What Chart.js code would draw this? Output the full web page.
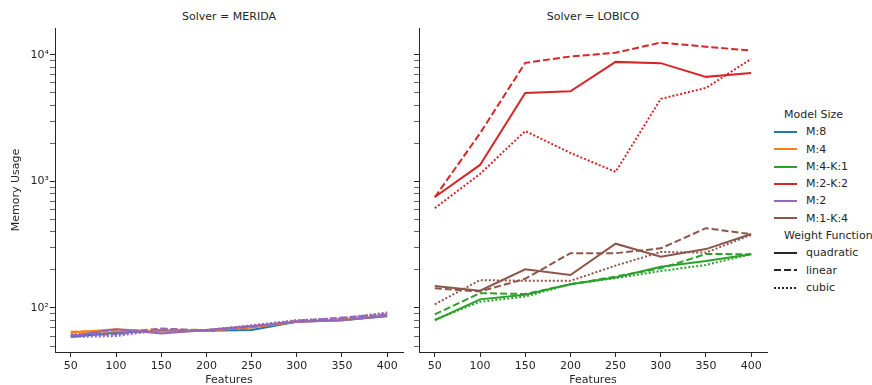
<!DOCTYPE html>
<html lang="en">
<head>
  <meta charset="UTF-8" />
  <title>Memory Usage by Solver</title>
  <script src="https://cdn.jsdelivr.net/npm/chart.js"></script>
  <style>
    body {
      margin: 0;
      background: #fff;
      font-family: 'DejaVu Sans', sans-serif;
      color: #262626;
      overflow: hidden;
    }
    .wrap { position: relative; width: 872px; height: 385px; }
    .panel { position: absolute; top: 0; height: 390px; }
    #meridaBox { left: 0; width: 410px; }
    #lobicoBox { left: 410px; width: 360px; }
    .title {
      position: absolute;
      top: 10px;
      font-size: 11px;
      transform: translateX(-50%);
      white-space: nowrap;
    }
    .legend {
      position: absolute;
      left: 774px;
      top: 106px;
      font-size: 11px;
      line-height: 17.3px;
      white-space: nowrap;
    }
    .legend .head { padding-left: 10px; }
    .legend .row { display: flex; align-items: center; height: 17.3px; }
    .legend svg { width: 23px; height: 6px; margin-right: 9px; }
  </style>
</head>
<body>
  <div class="wrap">
    <div class="title" style="left:229px">Solver = MERIDA</div>
    <div class="title" style="left:593px">Solver = LOBICO</div>
    <div class="panel" id="meridaBox"><canvas id="merida"></canvas></div>
    <div class="panel" id="lobicoBox"><canvas id="lobico"></canvas></div>
    <div class="legend" id="legend"></div>
  </div>

  <script>
    const features = [50, 100, 150, 200, 250, 300, 350, 400];
    const xTicks = [50, 100, 150, 200, 250, 300, 350, 400];

    // MERIDA
    const m8Quad = [59, 64, 66, 66, 67, 78, 80, 86];
    const m8Lin  = [61, 63, 68, 66, 70, 79, 82, 88];
    const m8Cub  = [60, 62, 67, 66, 71, 79, 81, 90];
    const m4Quad = [64, 68, 65, 66, 70, 78, 80, 87];
    const m4Lin  = [65, 66, 68, 67, 71, 79, 81, 88];
    const m4Cub  = [63, 65, 66, 67, 72, 80, 82, 91];
    const m2Quad = [60, 68, 63, 67, 72, 78, 80, 87];
    const m2Lin  = [61, 62, 69, 66, 71, 79, 84, 89];
    const m2Cub  = [59, 60, 67, 67, 73, 80, 83, 92];

    // LOBICO
    const m4k1Quad = [80, 117, 127, 154, 174, 212, 235, 266];
    const m4k1Lin  = [89, 131, 129, 154, 177, 206, 267, 266];
    const m4k1Cub  = [81, 112, 123, 154, 172, 196, 219, 266];
    const m2k2Quad = [754, 1350, 5000, 5150, 8800, 8600, 6700, 7200];
    const m2k2Lin  = [750, 2400, 8650, 9700, 10400, 12500, 11600, 10800];
    const m2k2Cub  = [615, 1145, 2500, 1680, 1190, 4490, 5480, 9300];
    const m1k4Quad = [149, 137, 202, 182, 322, 254, 292, 384];
    const m1k4Lin  = [143, 135, 170, 271, 271, 296, 427, 383];
    const m1k4Cub  = [107, 166, 164, 164, 216, 277, 274, 378];

    const sizes = ['M:8', 'M:4', 'M:4-K:1', 'M:2-K:2', 'M:2', 'M:1-K:4'];
    const weights = ['quadratic', 'linear', 'cubic'];

    const colors = {
      'M:8': '#1f77b4', 'M:4': '#ff7f0e', 'M:4-K:1': '#2ca02c',
      'M:2-K:2': '#d62728', 'M:2': '#9467bd', 'M:1-K:4': '#8c564b'
    };
    const dashes = { quadratic: [], linear: [7, 3], cubic: [2, 2] };
    const ink = '#262626';

    function series(size, weight, values) {
      return {
        label: size + ' ' + weight,
        data: values.map((v, i) => ({ x: features[i], y: v })),
        borderColor: colors[size],
        borderDash: dashes[weight],
        borderWidth: 2,
        pointRadius: 0,
        fill: false,
        tension: 0
      };
    }

    function isNice(v) {
      const e = Math.floor(Math.log10(v) + 1e-9);
      const s = v / Math.pow(10, e);
      return Math.abs(s - Math.round(s)) < 1e-6;
    }
    function isPow10(v) {
      const e = Math.log10(v);
      return Math.abs(e - Math.round(e)) < 1e-6;
    }
    const sup = { 2: '²', 3: '³', 4: '⁴' };

    function makePanel(id, datasets, showY, yWidth, padRight) {
      // later series drawn on top, like matplotlib
      datasets.forEach((d, i) => { d.order = datasets.length - i; });
      new Chart(document.getElementById(id), {
        type: 'line',
        data: { datasets },
        options: {
          responsive: true,
          maintainAspectRatio: false,
          animation: false,
          layout: { padding: { top: 28, right: padRight, left: 0, bottom: 0 } },
          plugins: { legend: { display: false }, tooltip: { enabled: false } },
          scales: {
            x: {
              type: 'linear',
              min: 32.5,
              max: 417.5,
              afterBuildTicks: s => { s.ticks = xTicks.map(v => ({ value: v })); },
              afterFit: s => { s.height = 38; },
              grid: { drawOnChartArea: false, drawTicks: true, tickLength: 5, color: ink },
              border: { display: true, color: ink, width: 1 },
              ticks: { color: ink, font: { size: 11, family: 'DejaVu Sans' }, padding: 3, maxRotation: 0, autoSkip: false },
              title: { display: true, text: 'Features', color: ink, font: { size: 11, family: 'DejaVu Sans' }, padding: { top: 0, bottom: 3 } }
            },
            y: {
              type: 'logarithmic',
              min: 44.9,
              max: 16300,
              afterBuildTicks: s => { s.ticks = s.ticks.filter(t => isNice(t.value)); },
              afterFit: s => { s.width = yWidth; },
              grid: {
                drawOnChartArea: false, drawTicks: true, tickLength: 5, color: ink,
                lineWidth: c => (c.tick && isPow10(c.tick.value)) ? 1 : 0.7
              },
              border: { display: true, color: ink, width: 1 },
              ticks: {
                autoSkip: false,
                color: ink,
                font: { size: 11, family: 'DejaVu Sans' },
                padding: 1,
                callback: v => (showY && isPow10(v)) ? '10' + sup[Math.round(Math.log10(v))] : ''
              },
              title: { display: showY, text: 'Memory Usage', color: ink, font: { size: 11, family: 'DejaVu Sans' }, padding: { top: 10, bottom: 0 } }
            }
          }
        }
      });
    }

    makePanel('merida', [
      series('M:8', 'quadratic', m8Quad), series('M:8', 'linear', m8Lin), series('M:8', 'cubic', m8Cub),
      series('M:4', 'quadratic', m4Quad), series('M:4', 'linear', m4Lin), series('M:4', 'cubic', m4Cub),
      series('M:2', 'quadratic', m2Quad), series('M:2', 'linear', m2Lin), series('M:2', 'cubic', m2Cub)
    ], true, 55, 7);

    makePanel('lobico', [
      series('M:4-K:1', 'quadratic', m4k1Quad), series('M:4-K:1', 'linear', m4k1Lin), series('M:4-K:1', 'cubic', m4k1Cub),
      series('M:2-K:2', 'quadratic', m2k2Quad), series('M:2-K:2', 'linear', m2k2Lin), series('M:2-K:2', 'cubic', m2k2Cub),
      series('M:1-K:4', 'quadratic', m1k4Quad), series('M:1-K:4', 'linear', m1k4Lin), series('M:1-K:4', 'cubic', m1k4Cub)
    ], false, 9, 3);

    // legend
    function swatch(color, dash) {
      return '<svg viewBox="0 0 23 6"><line x1="0" y1="3" x2="23" y2="3" stroke="' + color +
        '" stroke-width="2" stroke-dasharray="' + (dash.length ? dash.join(',') : 'none') + '"/></svg>';
    }
    let html = '<div class="head">Model Size</div>';
    sizes.forEach(s => { html += '<div class="row">' + swatch(colors[s], []) + s + '</div>'; });
    html += '<div class="head">Weight Function</div>';
    weights.forEach(w => { html += '<div class="row">' + swatch(ink, dashes[w]) + w + '</div>'; });
    document.getElementById('legend').innerHTML = html;
  </script>
</body>
</html>
